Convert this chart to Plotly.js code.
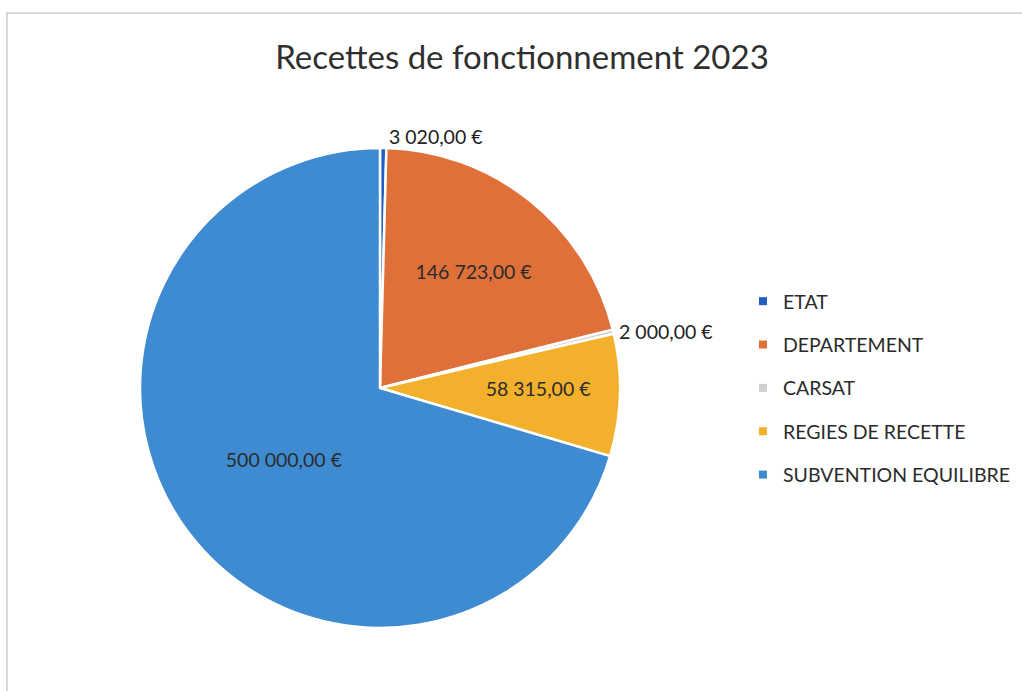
<!DOCTYPE html>
<html>
<head>
<meta charset="utf-8">
<script src="https://cdn.plot.ly/plotly-3.0.1.min.js"></script>
<style>
  html, body { margin: 0; padding: 0; background: #fff; }
  #chart { width: 1022px; height: 691px; }
</style>
</head>
<body>
<div id="chart"></div>
<script>
// recettes 2023, valeurs
var categories = ["ETAT", "DEPARTEMENT", "CARSAT", "REGIES DE RECETTE", "SUBVENTION EQUILIBRE"];
var montants = [3020, 146723, 2000, 58315, 500000];
var couleurs = ["#1f5fbf", "#e0703a", "#cfcfcf", "#f3b02c", "#3f8bd2"];
var positions = ["outside", "inside", "outside", "inside", "inside"];

var pie = {
    type: "pie",
    labels: categories,
    values: montants,
    sort: false,
    direction: "clockwise",
    rotation: 0,
    marker: { colors: couleurs, line: { color: "#ffffff", width: 2.5 } },
    texttemplate: "%{value:,.2f} €",
    textposition: positions,
    insidetextorientation: "horizontal",
    textfont: { family: "Lato, sans-serif", size: 19.5, color: "#2b2b2b" },
    outsidetextfont: { family: "Lato, sans-serif", size: 19.5, color: "#222222" },
    showlegend: false,
    hoverinfo: "label+value",
    domain: { x: [140 / 1022, 620 / 1022], y: [63 / 691, 543 / 691] }
};

// entrees de legende (carres), une par categorie
var legendTraces = categories.map(function (c, i) {
    return {
        type: "scatter",
        mode: "markers",
        x: [null],
        y: [null],
        name: c,
        legendgroup: "g" + i,
        marker: { symbol: "square", size: 8, color: couleurs[i] },
        hoverinfo: "skip"
    };
});

var layout = {
    width: 1022,
    height: 691,
    margin: { l: 0, r: 0, t: 0, b: 0 },
    separators: ", ",
    paper_bgcolor: "#ffffff",
    plot_bgcolor: "#ffffff",
    font: { family: "Lato, sans-serif", color: "#333333" },
    title: {
        text: "Recettes de fonctionnement 2023",
        font: { family: "Lato, sans-serif", size: 33, color: "#2f2f2f" },
        x: 522 / 1022,
        xanchor: "center",
        y: (691 - 57) / 691,
        yanchor: "middle",
        yref: "container"
    },
    xaxis: { visible: false },
    yaxis: { visible: false },
    showlegend: true,
    legend: {
        x: 743 / 1022,
        xanchor: "left",
        y: (691 - 282) / 691,
        yanchor: "top",
        font: { family: "Lato, sans-serif", size: 19.5, color: "#2b2b2b" },
        tracegroupgap: 15,
        bgcolor: "rgba(0,0,0,0)"
    },
    shapes: [{
        type: "rect",
        xref: "paper", yref: "paper",
        x0: 7 / 1022, x1: 1.02,
        y0: -0.02, y1: (691 - 13) / 691,
        line: { color: "#cccccc", width: 1.5 },
        fillcolor: "rgba(0,0,0,0)",
        layer: "below"
    }]
};

Plotly.newPlot("chart", [pie].concat(legendTraces), layout, { staticPlot: true, displayModeBar: false });
</script>
</body>
</html>
